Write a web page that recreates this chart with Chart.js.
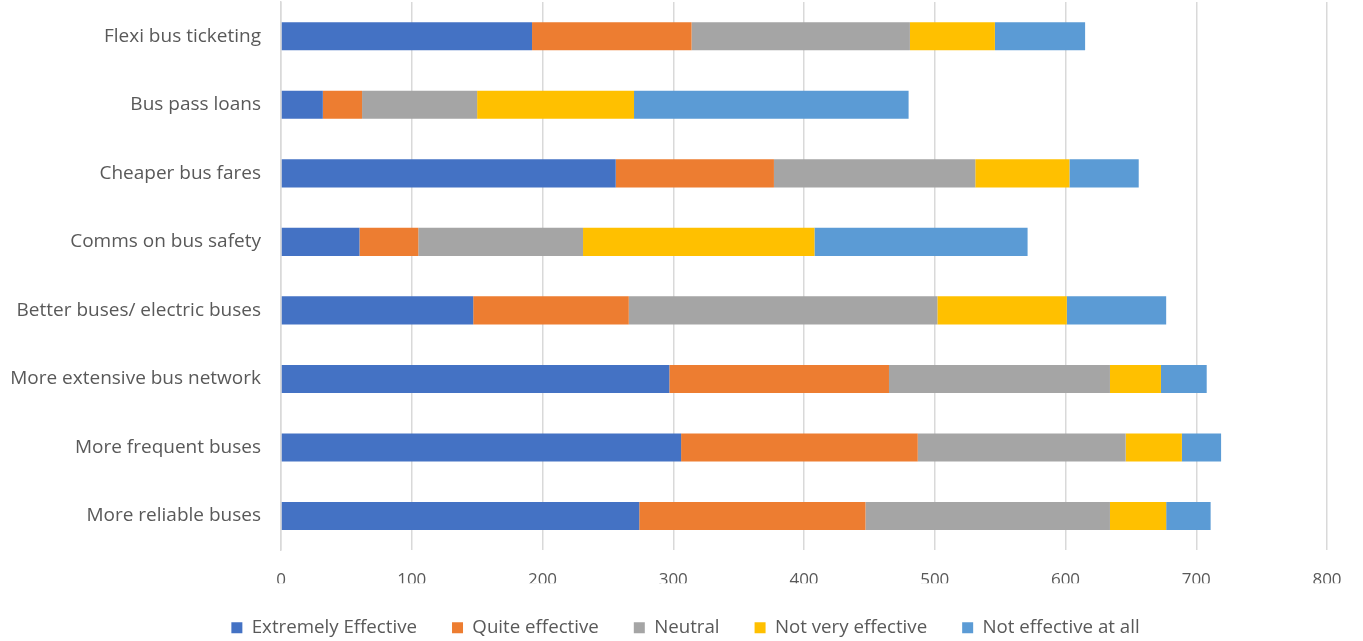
<!DOCTYPE html>
<html>
<head>
<meta charset="utf-8">
<script src="https://cdn.jsdelivr.net/npm/chart.js@4"></script>
<style>
html,body{margin:0;padding:0;background:#fff;}
#wrap{width:1363px;height:641px;}
</style>
</head>
<body>
<div id="wrap"><canvas id="c" width="1363" height="641"></canvas></div>
<script>
const categories = ["Flexi bus ticketing","Bus pass loans","Cheaper bus fares","Comms on bus safety","Better buses/ electric buses","More extensive bus network","More frequent buses","More reliable buses"];
const extremelyEffective = [192, 32, 256, 60, 147, 297, 306, 274];
const quiteEffective     = [122, 30, 121, 45, 119, 168, 181, 173];
const neutral            = [167, 88, 154, 126, 236, 169, 159, 187];
const notVeryEffective   = [65, 120, 72, 177, 99, 39, 43, 43];
const notEffectiveAtAll  = [69, 210, 53, 163, 76, 35, 30, 34];
const xTicks = [0,100,200,300,400,500,600,700,800];

const FONT = "'Open Sans', 'Liberation Sans', sans-serif";
const mk = (label, data, color) => ({label, data, backgroundColor: color, borderWidth: 0, categoryPercentage: 1.0, barPercentage: 0.41});

const shiftLegend = {
  id: 'shiftLegend',
  afterLayout(chart) {
    if (chart.legend) { chart.legend.left += 22; chart.legend.right += 22; }
  }
};

new Chart(document.getElementById('c'), {
  type: 'bar',
  data: {
    labels: categories,
    datasets: [
      mk("Extremely Effective", extremelyEffective, "#4472C4"),
      mk("Quite effective", quiteEffective, "#ED7D31"),
      mk("Neutral", neutral, "#A5A5A5"),
      mk("Not very effective", notVeryEffective, "#FFC000"),
      mk("Not effective at all", notEffectiveAtAll, "#5B9BD5")
    ]
  },
  plugins: [shiftLegend],
  options: {
    indexAxis: 'y',
    responsive: false,
    animation: false,
    layout: {padding: {top: 2, right: 36, bottom: -6, left: 0}},
    scales: {
      x: {
        stacked: true, min: 0, max: 800,
        afterBuildTicks: (ax) => { ax.ticks = xTicks.map(v => ({value: v})); },
        grid: {color: '#d9d9d9', lineWidth: 1.5, drawTicks: false},
        border: {display: false},
        ticks: {color: '#595959', font: {family: FONT, size: 17}, padding: 20},
        afterFit: (ax) => { ax.height = 33; }
      },
      y: {
        stacked: true,
        grid: {display: false},
        border: {color: '#d9d9d9', width: 1.5},
        ticks: {color: '#595959', font: {family: FONT, size: 19}, padding: 12},
        afterFit: (ax) => { ax.width = 281; ax.paddingTop = 0; ax.paddingBottom = 0; }
      }
    },
    plugins: {
      legend: {
        position: 'bottom',
        labels: {color: '#595959', font: {family: FONT, size: 18.7}, boxWidth: 11, boxHeight: 11, padding: 35}
      },
      tooltip: {enabled: false}
    }
  }
});
</script>
</body>
</html>
